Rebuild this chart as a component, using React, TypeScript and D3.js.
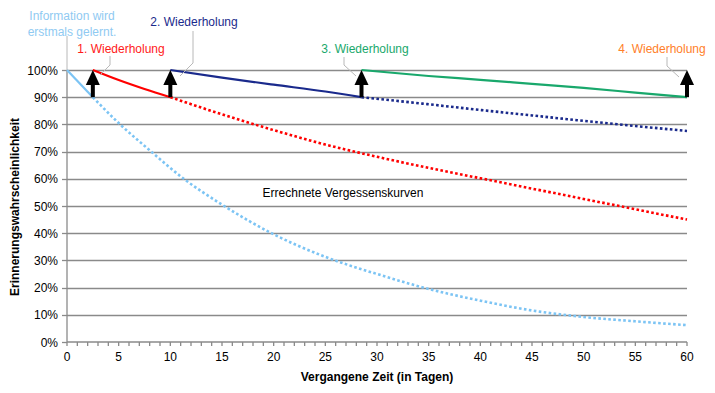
import React, { useRef, useEffect } from 'react';
import { select, scaleLinear, line, curveMonotoneX, range } from 'd3';

// vergessenskurve: first learning + 4 repetitions
const learnDays = [0, 2.5, 5, 8, 11.2, 15, 20, 25, 30, 35, 40, 45, 50, 55, 60];
const learnValues = [100, 90, 80.5, 70.5, 60.3, 50.5, 39.6, 31.3, 25, 19.5, 15.2, 11.6, 9.2, 7.6, 6.2];

const rep1Days = [2.5, 5, 7.5, 10, 15, 20, 25, 30, 35, 40, 45, 50, 55, 60];
const rep1Values = [100, 96.3, 93, 90, 83.7, 77.9, 72.6, 68.1, 64, 60.2, 56.4, 52.6, 48.8, 45];

const rep2Days = [10, 15, 20, 25, 28.5, 35, 40, 45, 50, 55, 60];
const rep2Values = [100, 97.2, 94.6, 92.1, 90, 87.4, 85.3, 83.3, 81.3, 79.4, 77.6];

const rep3Days = [28.5, 35, 40, 45, 50, 55, 60];
const rep3Values = [100, 97.8, 96.4, 94.9, 93.4, 91.7, 90];

const arrowDays = [2.5, 10, 28.5, 60];

const xTicks = [0, 5, 10, 15, 20, 25, 30, 35, 40, 45, 50, 55, 60];
const yTicks = [0, 10, 20, 30, 40, 50, 60, 70, 80, 90, 100];

const font = 'Liberation Sans, Arial, sans-serif';

function App() {
  const rootRef = useRef<SVGSVGElement>(null);
  const width = 715;
  const height = 393;
  const margin = { top: 70, right: 28, bottom: 51, left: 67 };

  useEffect(() => {
    const root = select(rootRef.current);
    root.selectAll('*').remove();

    const x = scaleLinear().domain([0, 60]).range([margin.left, width - margin.right]);
    const y = scaleLinear().domain([0, 100]).range([height - margin.bottom, margin.top]);

    // grid
    root.append('g').selectAll('line').data(yTicks.filter(d => d > 0)).enter().append('line')
      .attr('x1', x(0)).attr('x2', x(60))
      .attr('y1', d => Math.round(y(d)) + 0.5).attr('y2', d => Math.round(y(d)) + 0.5)
      .attr('stroke', '#8a8a8a').attr('stroke-width', 1.3);

    // axes
    const ax = root.append('g').attr('stroke', '#8a8a8a').attr('stroke-width', 1.3);
    ax.append('line').attr('x1', x(0)).attr('x2', x(0)).attr('y1', y(100)).attr('y2', y(0));
    ax.selectAll('.yt').data(yTicks).enter().append('line').attr('class', 'yt')
      .attr('x1', x(0) - 5).attr('x2', x(0))
      .attr('y1', d => Math.round(y(d)) + 0.5).attr('y2', d => Math.round(y(d)) + 0.5);
    ax.append('line').attr('x1', x(0)).attr('x2', x(60)).attr('y1', y(0)).attr('y2', y(0));
    ax.selectAll('.xt').data(range(0, 61)).enter().append('line').attr('class', 'xt')
      .attr('x1', d => x(d)).attr('x2', d => x(d))
      .attr('y1', y(0)).attr('y2', y(0) + 4);

    root.append('g').selectAll('text').data(yTicks).enter().append('text')
      .attr('x', 58).attr('y', d => y(d) + 4.5)
      .attr('text-anchor', 'end').attr('font-size', 12).attr('font-family', font)
      .attr('fill', '#000').text(d => d + '%');

    root.append('g').selectAll('text').data(xTicks).enter().append('text')
      .attr('x', d => x(d)).attr('y', 361)
      .attr('text-anchor', 'middle').attr('font-size', 12).attr('font-family', font)
      .attr('fill', '#000').text(d => d);

    root.append('text').attr('x', 377).attr('y', 381).attr('text-anchor', 'middle')
      .attr('font-size', 12).attr('font-weight', 'bold').attr('font-family', font)
      .text('Vergangene Zeit (in Tagen)');
    root.append('text').attr('transform', 'translate(19,207) rotate(-90)').attr('text-anchor', 'middle')
      .attr('font-size', 12).attr('font-weight', 'bold').attr('font-family', font)
      .text('Erinnerungswahrscheinlichkeit');

    // solid part up to solidEnd, dotted prognosis after it
    const drawCurve = (days: number[], vals: number[], solidEnd: number, color: string) => {
      const pts = days.map((d, i) => [x(d), y(vals[i])] as [number, number]);
      const gen = line().curve(curveMonotoneX);
      if (solidEnd < pts.length - 1) {
        root.append('path').attr('d', gen(pts.slice(solidEnd)) as string)
          .attr('fill', 'none').attr('stroke', color).attr('stroke-width', 2.6)
          .attr('stroke-dasharray', '2.6 2.4');
      }
      root.append('path').attr('d', gen(pts.slice(0, solidEnd + 1)) as string)
        .attr('fill', 'none').attr('stroke', color).attr('stroke-width', 2.2);
    };

    drawCurve(learnDays, learnValues, 1, '#7cc4f4');
    drawCurve(rep1Days, rep1Values, 3, '#ff0000');
    drawCurve(rep2Days, rep2Values, 4, '#1a2a8c');
    drawCurve(rep3Days, rep3Values, rep3Days.length - 1, '#19a86c');

    // arrows
    const arr = root.append('g').selectAll('g').data(arrowDays).enter().append('g');
    arr.append('line')
      .attr('x1', d => x(d)).attr('x2', d => x(d))
      .attr('y1', y(90)).attr('y2', y(100) + 12)
      .attr('stroke', '#000').attr('stroke-width', 4);
    arr.append('path')
      .attr('d', d => `M${x(d)},${y(100)} L${x(d) + 7},${y(100) + 15} L${x(d) - 7},${y(100) + 15} Z`)
      .attr('fill', '#000');

    // leader lines
    const leaders = [
      [[67, 36], [67, 70]],
      [[110, 56], [110, 65], [100, 75]],
      [[193, 31], [193, 63], [180, 76]],
      [[344, 57], [344, 65], [356, 76]],
      [[667, 57], [667, 66], [679, 77]],
    ];
    root.append('g').selectAll('path').data(leaders).enter().append('path')
      .attr('d', d => line()(d as [number, number][]) as string)
      .attr('fill', 'none').attr('stroke', '#b8b8b8').attr('stroke-width', 1);

    const labels: [string, number, number, string][] = [
      ['Information wird', 72, 20, '#8fcaf2'],
      ['erstmals gelernt.', 72, 36, '#8fcaf2'],
      ['1. Wiederholung', 121, 53, '#ff1a1a'],
      ['2. Wiederholung', 194, 26, '#1a2a8c'],
      ['3. Wiederholung', 365, 53, '#19a86c'],
      ['4. Wiederholung', 662, 53, '#ff7f2a'],
      ['Errechnete Vergessenskurven', 343, 197, '#000'],
    ];
    root.append('g').selectAll('text').data(labels).enter().append('text')
      .attr('x', d => d[1]).attr('y', d => d[2]).attr('fill', d => d[3])
      .attr('text-anchor', 'middle').attr('font-size', 12).attr('font-family', font)
      .text(d => d[0]);
  });

  return (
    <svg ref={rootRef} width={width} height={height}
      style={{ position: 'absolute', left: 0, top: 0, background: '#fff' }} />
  );
}

export default App;
